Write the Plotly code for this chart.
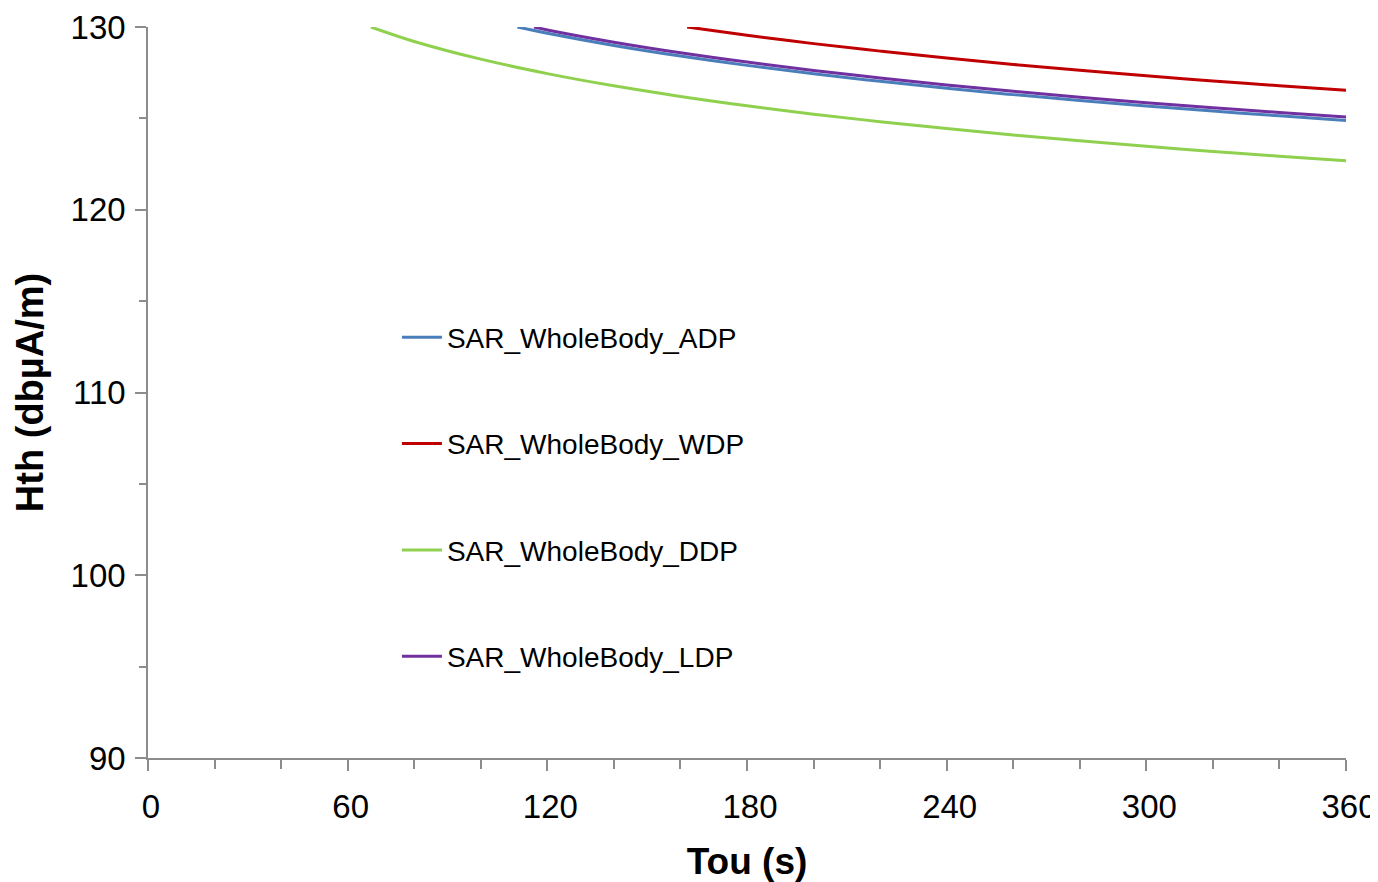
import plotly.graph_objects as go

# Time (s) and threshold values (dBµA/m)
t_adp = [111, 120, 140, 160, 180, 200, 220, 240, 260, 280, 300, 320, 340, 360]
h_adp = [130.0, 129.66, 128.99, 128.41, 127.90, 127.44, 127.03, 126.65, 126.30, 125.98, 125.68, 125.40, 125.14, 124.89]

t_wdp = [162, 180, 200, 220, 240, 260, 280, 300, 320, 340, 360]
h_wdp = [130.0, 129.55, 129.09, 128.68, 128.30, 127.95, 127.63, 127.33, 127.05, 126.79, 126.54]

t_ddp = [67, 80, 100, 120, 140, 160, 180, 200, 220, 240, 260, 280, 300, 320, 340, 360]
h_ddp = [130.0, 129.21, 128.24, 127.45, 126.78, 126.20, 125.69, 125.23, 124.82, 124.44, 124.09, 123.77, 123.47, 123.19, 122.93, 122.68]

t_ldp = [116, 120, 140, 160, 180, 200, 220, 240, 260, 280, 300, 320, 340, 360]
h_ldp = [130.0, 129.84, 129.17, 128.59, 128.08, 127.62, 127.21, 126.83, 126.48, 126.16, 125.86, 125.58, 125.32, 125.07]

series = [
    ("SAR_WholeBody_ADP", t_adp, h_adp, "#4a7ebb"),
    ("SAR_WholeBody_WDP", t_wdp, h_wdp, "#c00000"),
    ("SAR_WholeBody_DDP", t_ddp, h_ddp, "#8fd14f"),
    ("SAR_WholeBody_LDP", t_ldp, h_ldp, "#7030a0"),
]

x_ticks = [0, 60, 120, 180, 240, 300, 360]
y_ticks = [90, 100, 110, 120, 130]

FONT = "Arial, Liberation Sans, sans-serif"
AXIS_COLOR = "#8c8c8c"

fig = go.Figure()
for i, (name, t, h, c) in enumerate(series):
    fig.add_trace(go.Scatter(
        x=t, y=h, name=name, mode="lines",
        line=dict(color=c, width=3, shape="spline"),
        legendgroup=f"g{i}",
    ))

# page body adds an 8px offset, so the figure is 8px smaller and margins compensated
fig.update_layout(
    width=1370, height=874,
    margin=dict(l=140, r=32, t=19, b=124),
    paper_bgcolor="white", plot_bgcolor="white",
    font=dict(family=FONT, color="#000000"),
    showlegend=True,
    legend=dict(
        x=0.2078, xanchor="left", y=0.6095, yanchor="top",
        font=dict(size=28, family=FONT, color="#000000"),
        tracegroupgap=67, itemwidth=40,
        bgcolor="rgba(0,0,0,0)",
    ),
    xaxis=dict(
        range=[0, 360], tickvals=x_ticks, ticktext=[str(v) for v in x_ticks],
        automargin=False,
        showgrid=False, zeroline=False,
        showline=True, linecolor=AXIS_COLOR, linewidth=1.5,
        ticks="outside", ticklen=11, tickwidth=1.5, tickcolor=AXIS_COLOR,
        minor=dict(dtick=20, ticks="outside", ticklen=9, tickwidth=1.5, tickcolor=AXIS_COLOR, showgrid=False),
        tickfont=dict(size=33, family=FONT, color="#000000"),
        ticklabelstandoff=8, ticklabelshift=3,
        title=dict(text="<b>Tou (s)</b>", font=dict(size=37, family=FONT, color="#000000"), standoff=24),
    ),
    yaxis=dict(
        range=[90, 130], tickvals=y_ticks, ticktext=[str(v) for v in y_ticks],
        automargin=False,
        showgrid=False, zeroline=False,
        showline=True, linecolor=AXIS_COLOR, linewidth=1.5,
        ticks="outside", ticklen=11, tickwidth=1.5, tickcolor=AXIS_COLOR,
        minor=dict(dtick=5, ticks="outside", ticklen=7, tickwidth=1.5, tickcolor=AXIS_COLOR, showgrid=False),
        tickfont=dict(size=33, family=FONT, color="#000000"),
        ticklabelstandoff=3,
        title=dict(text="<b>Hth (dbµA/m)</b>", font=dict(size=38, family=FONT, color="#000000"), standoff=15),
    ),
)

fig.write_html("out.html")
